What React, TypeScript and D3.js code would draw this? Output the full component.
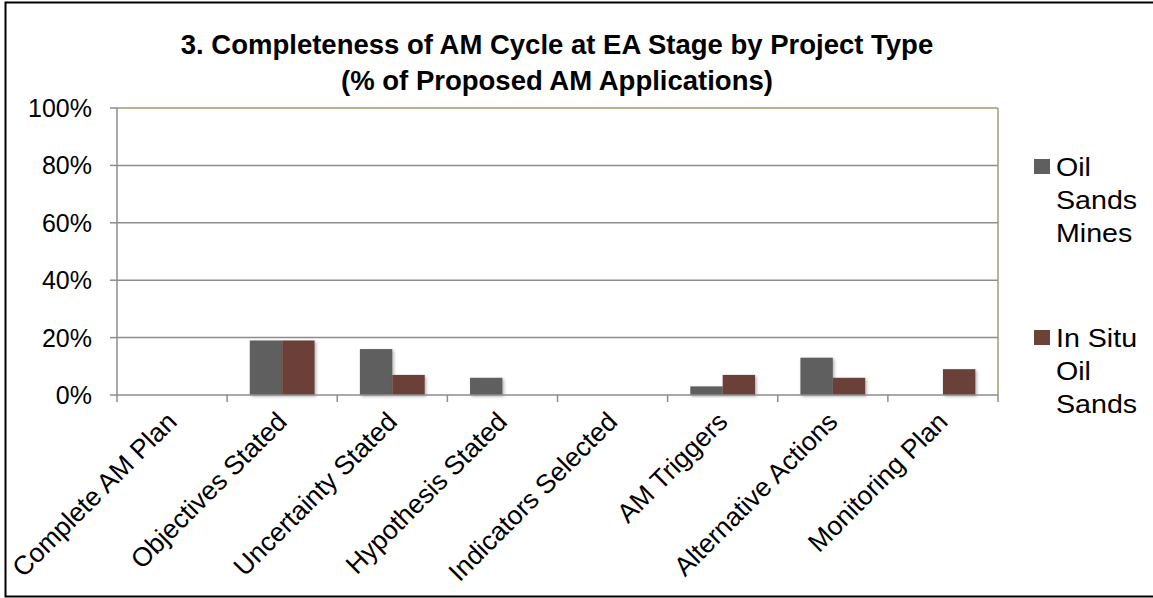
import { useEffect, useRef } from 'react'
import * as d3 from 'd3'

const categories = [
  'Complete AM Plan',
  'Objectives Stated',
  'Uncertainty Stated',
  'Hypothesis Stated',
  'Indicators Selected',
  'AM Triggers',
  'Alternative Actions',
  'Monitoring Plan',
]
const oilSandsMines = [0, 19, 16, 6, 0, 3, 13, 0]
const inSituOilSands = [0, 19, 7, 0, 0, 7, 6, 9]
const seriesNames = [['Oil', 'Sands', 'Mines'], ['In Situ', 'Oil', 'Sands']]
const seriesColors = ['#5f5f5f', '#6b4139']
const yTicks = [0, 20, 40, 60, 80, 100]
const titleLines = [
  '3. Completeness of AM Cycle at EA Stage by Project Type',
  '(% of Proposed AM Applications)',
]

const W = 1153
const H = 598
const FONT = 'Arial, "Liberation Sans", sans-serif'

export default function App() {
  const svgRef = useRef<SVGSVGElement>(null)

  useEffect(() => {
    document.body.style.margin = '0'
    if (!svgRef.current) return
    const svg = d3.select(svgRef.current)
    svg.selectAll('*').remove()

    const left = 117
    const right = 998
    const top = 108
    const bottom = 395

    svg.append('rect').attr('width', W).attr('height', H).attr('fill', '#fff')
    // outer chart border (right edge is cut off in the original)
    svg
      .append('rect')
      .attr('x', 5.5)
      .attr('y', 2.5)
      .attr('width', 1160)
      .attr('height', 594)
      .attr('fill', 'none')
      .attr('stroke', '#000')
      .attr('stroke-width', 2)

    const defs = svg.append('defs')
    const f = defs.append('filter').attr('id', 'shadow').attr('x', '-20%').attr('y', '-20%').attr('width', '150%').attr('height', '150%')
    f.append('feDropShadow')
      .attr('dx', 1.5)
      .attr('dy', 1.5)
      .attr('stdDeviation', 1.5)
      .attr('flood-color', '#000')
      .attr('flood-opacity', 0.3)

    titleLines.forEach((t, i) => {
      svg
        .append('text')
        .attr('x', 557)
        .attr('y', 54 + i * 36)
        .attr('text-anchor', 'middle')
        .style('font-family', FONT)
        .style('font-size', '27.5px')
        .style('font-weight', 'bold')
        .text(t)
    })

    const x = d3.scaleBand().domain(categories).range([left, right]).paddingInner(0).paddingOuter(0)
    const inner = d3.scaleBand().domain(['0', '1']).range([0, x.bandwidth()]).paddingInner(0).paddingOuter(0.7)
    const y = d3.scaleLinear().domain([0, 100]).range([bottom, top])

    // gridlines
    yTicks.slice(1, -1).forEach((t) => {
      svg.append('line')
        .attr('x1', left).attr('x2', right)
        .attr('y1', y(t)).attr('y2', y(t))
        .attr('stroke', '#8c8c8c').attr('stroke-width', 1.5)
    })
    // top and right frame
    svg.append('line').attr('x1', left).attr('x2', right).attr('y1', top).attr('y2', top)
      .attr('stroke', '#a09c6c').attr('stroke-width', 1.5)
    svg.append('line').attr('x1', right).attr('x2', right).attr('y1', top).attr('y2', bottom)
      .attr('stroke', '#a09c6c').attr('stroke-width', 1.5)

    // bars
    const series = [oilSandsMines, inSituOilSands]
    series.forEach((vals, s) => {
      const data = vals.map((v, i) => ({ cat: categories[i], v })).filter((d) => d.v > 0)
      svg.append('g')
        .selectAll('rect')
        .data(data)
        .enter()
        .append('rect')
        .attr('x', (d) => (x(d.cat) as number) + (inner(String(s)) as number))
        .attr('y', (d) => y(d.v))
        .attr('width', inner.bandwidth())
        .attr('height', (d) => bottom - y(d.v))
        .attr('fill', seriesColors[s])
        .attr('filter', 'url(#shadow)')
    })

    // y axis
    const yAxis = svg.append('g')
    yAxis.append('line').attr('x1', left).attr('x2', left).attr('y1', top).attr('y2', bottom)
      .attr('stroke', '#8c8c8c').attr('stroke-width', 1.5)
    yTicks.forEach((t) => {
      yAxis.append('line').attr('x1', left - 7).attr('x2', left).attr('y1', y(t)).attr('y2', y(t))
        .attr('stroke', '#8c8c8c').attr('stroke-width', 1.5)
      yAxis.append('text')
        .attr('x', 92)
        .attr('y', y(t))
        .attr('dy', '0.36em')
        .attr('text-anchor', 'end')
        .style('font-family', FONT)
        .style('font-size', '25px')
        .text(`${t}%`)
    })

    // x axis
    const xAxis = svg.append('g')
    xAxis.append('line').attr('x1', left).attr('x2', right).attr('y1', bottom).attr('y2', bottom)
      .attr('stroke', '#8c8c8c').attr('stroke-width', 1.5)
    d3.range(categories.length + 1).forEach((i) => {
      const tx = left + i * x.step()
      xAxis.append('line').attr('x1', tx).attr('x2', tx).attr('y1', bottom).attr('y2', bottom + 7)
        .attr('stroke', '#8c8c8c').attr('stroke-width', 1.5)
    })
    categories.forEach((c) => {
      const cx = (x(c) as number) + x.bandwidth() / 2
      xAxis.append('text')
        .attr('transform', `translate(${cx - 7},${bottom + 15}) rotate(-45)`)
        .attr('dy', '0.71em')
        .attr('text-anchor', 'end')
        .style('font-family', FONT)
        .style('font-size', '26.5px')
        .text(c)
    })

    // legend
    const legendY = [159, 330]
    seriesNames.forEach((lines, s) => {
      const g = svg.append('g')
      g.append('rect').attr('x', 1034).attr('y', legendY[s]).attr('width', 16).attr('height', 15)
        .attr('fill', seriesColors[s])
      lines.forEach((l, j) => {
        g.append('text')
          .attr('transform', `translate(1056,${legendY[s] + 17 + j * 33}) scale(1.1,1)`)
          .style('font-family', FONT)
          .style('font-size', '26px')
          .text(l)
      })
    })
  }, [])

  return <svg ref={svgRef} width={W} height={H} style={{ display: 'block' }} />
}
